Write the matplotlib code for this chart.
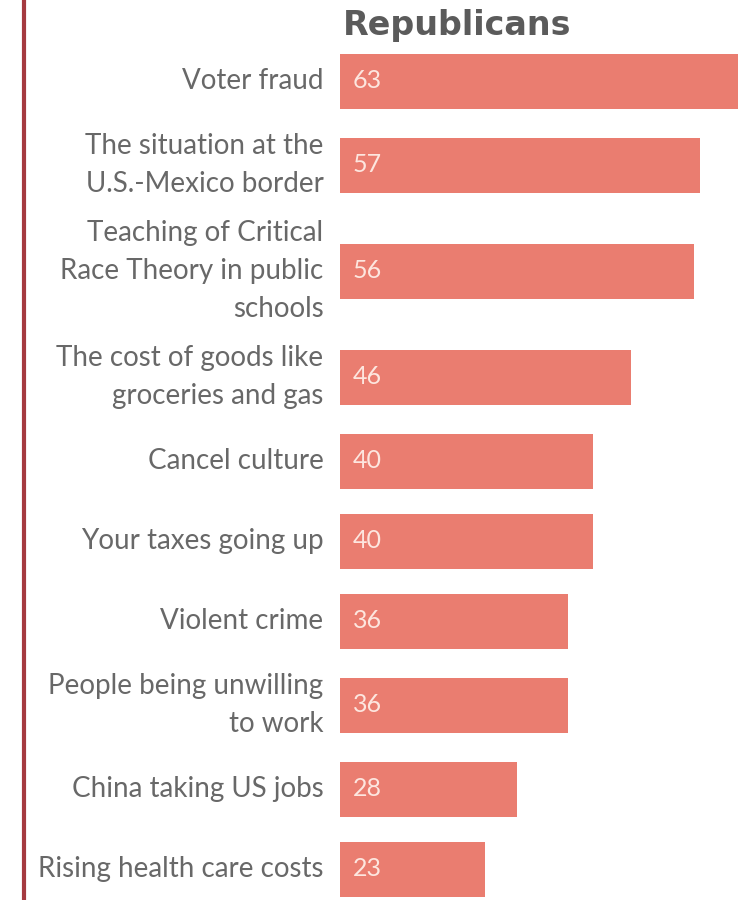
import matplotlib.pyplot as plt
from matplotlib.lines import Line2D

labels = [
    "Voter fraud",
    "The situation at the\nU.S.-Mexico border",
    "Teaching of Critical\nRace Theory in public\nschools",
    "The cost of goods like\ngroceries and gas",
    "Cancel culture",
    "Your taxes going up",
    "Violent crime",
    "People being unwilling\nto work",
    "China taking US jobs",
    "Rising health care costs",
]
values = [63, 57, 56, 46, 40, 40, 36, 36, 28, 23]
title = "Republicans"

bar_color = "#ea7d70"
text_color = "#686868"

# row heights (in px) depend on how many lines the label needs
def row_height(n_lines):
    return max(80, 36 * n_lines + 16)

heights = [row_height(lab.count("\n") + 1) for lab in labels]
ypos = [81]
for a, b in zip(heights[:-1], heights[1:]):
    ypos.append(ypos[-1] + (a + b) / 2)

fig = plt.figure(figsize=(7.51, 9.0), dpi=100)
ax = fig.add_axes([0, 0, 1, 1])
px = 6.32  # pixels per percentage point
ax.set_xlim(-340 / px, 411 / px)
ax.set_ylim(900, 0)
ax.axis("off")

ax.barh(ypos, values, height=55, left=0, color=bar_color, edgecolor="none")

for y, v, lab in zip(ypos, values, labels):
    ax.text(2.0, y, str(v), ha="left", va="center", fontsize=18,
            color="#fde6df", family="Lato")
    ax.text(-2.6, y, lab, ha="right", va="center", fontsize=20,
            color=text_color, family="Lato", linespacing=1.56)

ax.text(0.4, 26, title, ha="left", va="center", fontsize=24,
        fontweight="bold", color="#5b5b5b", family="DejaVu Sans")

fig.add_artist(Line2D([0.032, 0.032], [0, 1], transform=fig.transFigure,
                      color="#a53a40", lw=3))

fig.savefig("out.png", dpi=100, facecolor="white")
